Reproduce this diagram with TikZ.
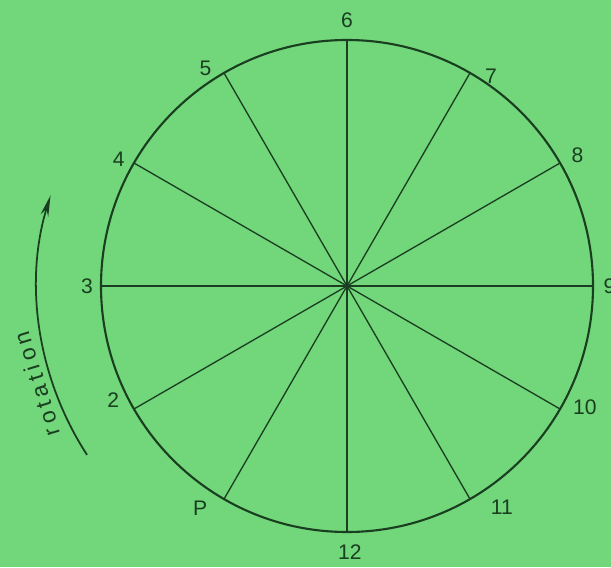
\documentclass[tikz,border=0pt]{standalone}
\usepackage{fontspec}
\setmainfont{Liberation Sans}
\newfontfamily\spacedfont[LetterSpace=20]{Liberation Sans}
\usepackage{xcolor}
\usetikzlibrary{arrows.meta}
\definecolor{paperGreen}{RGB}{114,214,122}
\definecolor{inkGreen}{RGB}{26,62,32}

\begin{document}
\begin{tikzpicture}[font=\large, every node/.style={text=inkGreen},
  rim/.style={inkGreen, line width=1.2pt},
  spoke/.style={inkGreen, line width=0.75pt},
  numlabel/.style={inner sep=0pt}]
  \fill[paperGreen] (0,0) rectangle (12.22,11.34);
  \useasboundingbox (0,0) rectangle (12.22,11.34);
  \coordinate (hub) at (6.94,5.62);
  \draw[rim] (hub) circle (4.92);
  % spokes every 30 degrees, label angle/radius set by hand
  \foreach \a/\la/\lr/\t in {90/90/5.32/6, 60/55.5/5.08/7, 30/29.6/5.3/8, 0/0/5.25/9,
      -30/-27/5.34/10, -60/-55/5.4/11, -90/-89.4/5.32/12, -120/-123.5/5.32/P,
      -150/-154/5.2/2, 180/180/5.2/3, 150/151/5.22/4, 120/123/5.2/5} {
    \coordinate (end\t) at ([shift={(hub)}]\a:4.92);
    \draw[spoke] (hub) -- (end\t);
    \node[numlabel] (lab\t) at ([shift={(hub)}]\la:\lr) {\t};
  }
  % direction of rotation
  \coordinate (rotA) at ([shift={(hub)}]213:6.2);
  \coordinate (rotB) at ([shift={(hub)}]163:6.2);
  \draw[rim, line width=1pt, -{Stealth[length=0.42cm, width=0.16cm]}]
    (rotA) arc[start angle=213, end angle=163, radius=6.2];
  \node[rotate=107, font=\spacedfont\fontsize{13}{15}\selectfont] (rotlab)
    at ([shift={(hub)}]197.6:6.5) {rotation};
\end{tikzpicture}
\end{document}
